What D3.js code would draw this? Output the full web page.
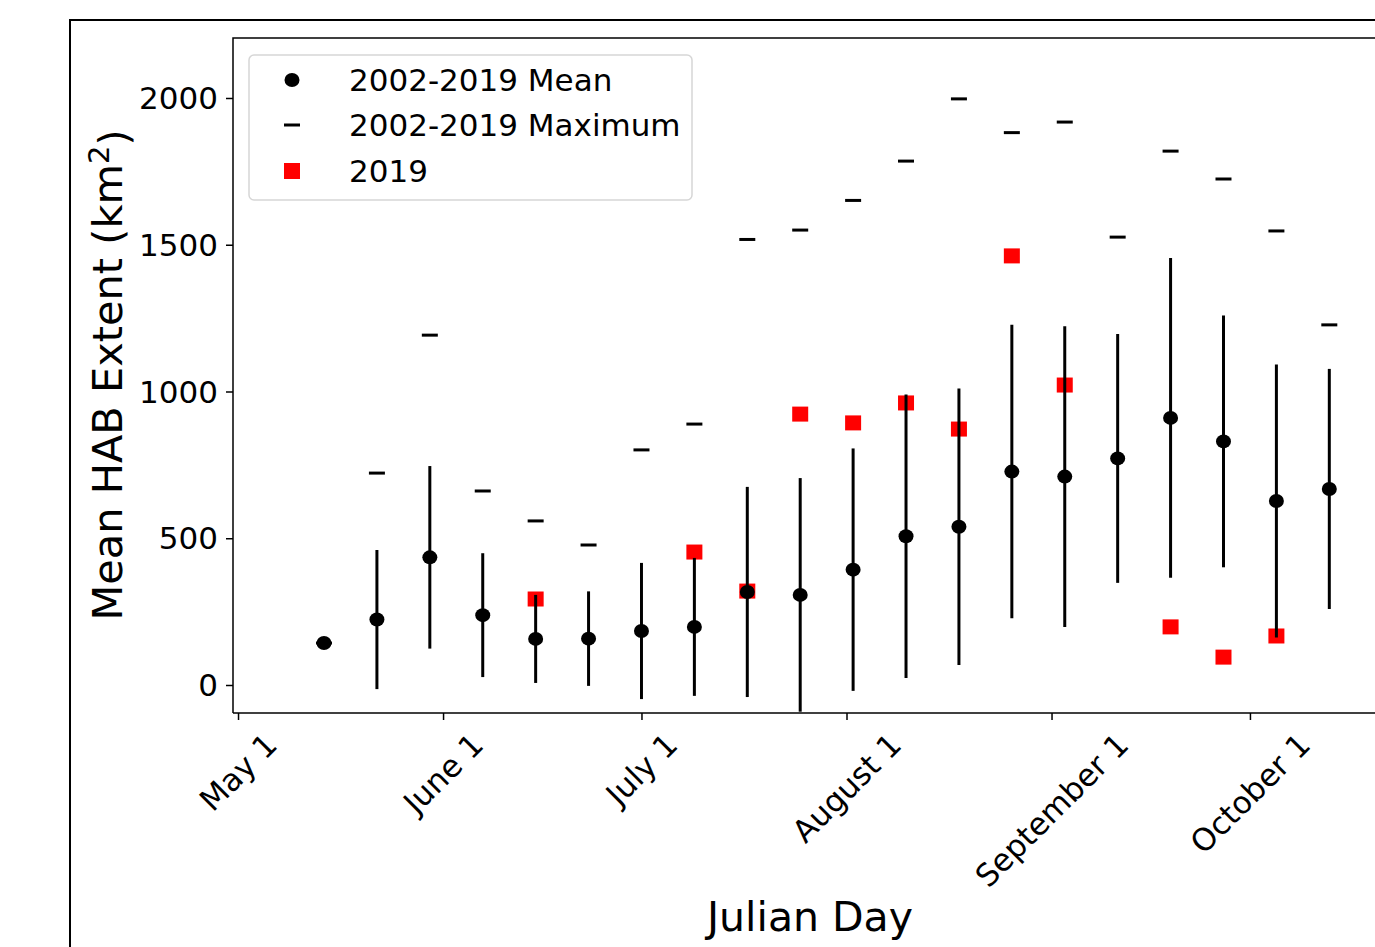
<!DOCTYPE html>
<meta charset="utf-8">
<style>
body { margin: 0; background: #fff; }
text { font-family: "DejaVu Sans", sans-serif; fill: #000; }
.axis path, .axis line { fill: none; stroke: #000; stroke-width: 1.5; }
</style>
<body>
<script src="https://d3js.org/d3.v7.min.js"></script>
<script>

// 8-day composites (julian day)
var days = [134, 142, 150, 158, 166, 174, 182, 190, 198, 206, 214, 222, 230, 238, 246, 254, 262, 270, 278, 286]
var meanExtent = [143, 223, 435, 238, 157, 158, 184, 198, 317, 307, 393, 507, 539, 727, 710, 772, 910, 830, 627, 668]
var stdExtent = [0, 237, 311, 211, 150, 161, 232, 235, 358, 398, 413, 483, 471, 500, 512, 424, 545, 429, 465, 409]
var maxExtent = [143, 722, 1192, 661, 559, 477, 801, 889, 1518, 1550, 1651, 1785, 1997, 1882, 1918, 1526, 1819, 1724, 1547, 1227]
var extent2019 = [null, null, null, null, 293, null, null, 453, 320, 923, 893, 961, 872, 1462, 1022, null, 198, 95, 167, null]

var monthTicks = [121, 152, 182, 213, 244, 274]
var monthLabels = ["May 1", "June 1", "July 1", "August 1", "September 1", "October 1"]
var yTicks = [0, 500, 1000, 1500, 2000]

var width = 1375
var height = 947

var svg = d3.select("body").append("svg")
    .attr("width", width)
    .attr("height", height)

// figure frame
svg.append("path")
    .attr("d", "M70,947V20H1375")
    .attr("fill", "none")
    .attr("stroke", "#000")
    .attr("stroke-width", 2)

var plot = {left: 233, top: 38, bottom: 713, right: 1400}

var x = d3.scaleLinear()
    .domain([120.24, 121 + (plot.right - 238) / 6.614])
    .range([plot.left, plot.right])

var y = d3.scaleLinear()
    .domain([-95.4, 2204.4])
    .range([plot.bottom, plot.top])

var data = days.map(function(d, i) {
  return {day: d, mean: meanExtent[i], std: stdExtent[i], max: maxExtent[i], y2019: extent2019[i]}
})

var g = svg.append("g")

g.append("clipPath").attr("id", "clip")
  .append("rect")
    .attr("x", plot.left).attr("y", plot.top)
    .attr("width", plot.right - plot.left).attr("height", plot.bottom - plot.top)

var marks = g.append("g").attr("clip-path", "url(#clip)")

// 2019 squares (under the error bars)
marks.selectAll(".sq")
    .data(data.filter(function(d) { return d.y2019 != null }))
  .enter().append("rect")
    .attr("class", "sq")
    .attr("x", function(d) { return x(d.day) - 8 })
    .attr("y", function(d) { return y(d.y2019) - 7.5 })
    .attr("width", 16)
    .attr("height", 15)
    .attr("fill", "#ff0000")

// maximum dashes
marks.selectAll(".mx")
    .data(data)
  .enter().append("line")
    .attr("class", "mx")
    .attr("x1", function(d) { return x(d.day) - 8 })
    .attr("x2", function(d) { return x(d.day) + 8 })
    .attr("y1", function(d) { return y(d.max) })
    .attr("y2", function(d) { return y(d.max) })
    .attr("stroke", "#000")
    .attr("stroke-width", 3)

// error bars (mean +/- std)
marks.selectAll(".err")
    .data(data.filter(function(d) { return d.std > 0 }))
  .enter().append("line")
    .attr("class", "err")
    .attr("x1", function(d) { return x(d.day) })
    .attr("x2", function(d) { return x(d.day) })
    .attr("y1", function(d) { return y(d.mean + d.std) })
    .attr("y2", function(d) { return y(d.mean - d.std) })
    .attr("stroke", "#000")
    .attr("stroke-width", 3)

marks.selectAll(".mean")
    .data(data)
  .enter().append("ellipse")
    .attr("class", "mean")
    .attr("cx", function(d) { return x(d.day) })
    .attr("cy", function(d) { return y(d.mean) })
    .attr("rx", 7.5)
    .attr("ry", 7)
    .attr("fill", "#000")

// spines
g.append("path")
    .attr("d", "M" + plot.left + "," + plot.bottom + "V" + plot.top + "H" + plot.right)
    .attr("fill", "none").attr("stroke", "#000").attr("stroke-width", 1.5)

var xAxis = g.append("g")
    .attr("class", "x axis")
    .attr("transform", "translate(0," + plot.bottom + ")")
    .call(d3.axisBottom(x).tickValues(monthTicks).tickSize(7).tickSizeOuter(0).tickFormat(""))
xAxis.select(".domain").attr("d", "M" + plot.left + ",0H" + plot.right)

var yAxis = g.append("g")
    .attr("class", "y axis")
    .attr("transform", "translate(" + plot.left + ",0)")
    .call(d3.axisLeft(y).tickValues(yTicks).tickSize(7).tickSizeOuter(0).tickFormat(""))
yAxis.select(".domain").remove()

yTicks.forEach(function(t) {
  g.append("text")
      .attr("x", 218)
      .attr("y", y(t))
      .attr("dy", "0.36em")
      .attr("text-anchor", "end")
      .style("font-size", "31px")
      .text(t)
})

// rotated month labels, centred under tick like matplotlib ha=center
monthTicks.forEach(function(t, i) {
  var lbl = g.append("text")
      .attr("text-anchor", "middle")
      .attr("dy", "0.36em")
      .style("font-size", "31px")
      .text(monthLabels[i])
  var w = lbl.node().getComputedTextLength()
  var half = (w + 31) / (2 * Math.SQRT2)
  lbl.attr("transform", "translate(" + x(t) + "," + (728 + half) + ") rotate(-45)")
})

g.append("text")
    .attr("x", 810)
    .attr("y", 931)
    .attr("text-anchor", "middle")
    .style("font-size", "41px")
    .text("Julian Day")

var yl = g.append("text")
    .attr("transform", "translate(122,375) rotate(-90)")
    .attr("text-anchor", "middle")
    .style("font-size", "41.5px")
yl.append("tspan").text("Mean HAB Extent (km")
yl.append("tspan").attr("dy", "-0.45em").style("font-size", "29px").text("2")
yl.append("tspan").attr("dy", "0.45em").text(")")

// legend
var leg = svg.append("g")
leg.append("rect")
    .attr("x", 249).attr("y", 55)
    .attr("width", 443).attr("height", 145)
    .attr("rx", 5)
    .attr("fill", "#fff")
    .attr("stroke", "#d6d6d6")
    .attr("stroke-width", 1.5)

var legendRows = ["2002-2019 Mean", "2002-2019 Maximum", "2019"]
var rowY = [80, 125, 171]

leg.append("ellipse").attr("cx", 292).attr("cy", rowY[0]).attr("rx", 7.5).attr("ry", 7).attr("fill", "#000")
leg.append("line").attr("x1", 284).attr("x2", 300).attr("y1", rowY[1]).attr("y2", rowY[1])
    .attr("stroke", "#000").attr("stroke-width", 3)
leg.append("rect").attr("x", 284).attr("y", rowY[2] - 8).attr("width", 16).attr("height", 16).attr("fill", "#ff0000")

legendRows.forEach(function(t, i) {
  leg.append("text")
      .attr("x", 349)
      .attr("y", rowY[i])
      .attr("dy", "0.36em")
      .style("font-size", "31px")
      .text(t)
})

</script>
